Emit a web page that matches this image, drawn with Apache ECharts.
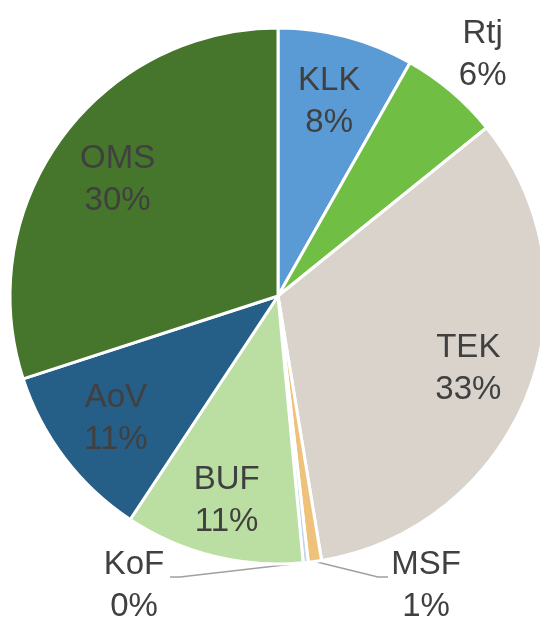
<!DOCTYPE html>
<html>
<head>
<meta charset="utf-8">
<script src="https://cdn.jsdelivr.net/npm/echarts@6/dist/echarts.min.js"></script>
<style>
  html, body { margin: 0; padding: 0; background: #fff; }
  #chart { width: 540px; height: 626px; }
</style>
</head>
<body>
<div id="chart"></div>
<script>
// slices, clockwise from 12 o'clock
var names  = ['KLK', 'Rtj', 'TEK', 'MSF', 'KoF', 'BUF', 'AoV', 'OMS'];
var shares = [8.2, 6.0, 33.2, 0.8, 0.3, 10.8, 10.7, 30.0];
var colors = ['#5b9bd5', '#70bf44', '#d9d3cc', '#eec27a', '#bdd7ee', '#bbdfa3', '#255e86', '#46762b'];

var cx = 278, cy = 296, R = 268;

// label distance from centre, as a share of the radius
var labelSpots = { KLK: 0.75, Rtj: 1.18, TEK: 0.76, BUF: 0.79, AoV: 0.76, OMS: 0.74 };
// small slices get a leader line to a label below the pie
var leaders = {
  KoF: { x: 134, y: 586, bend: [180, 577], end: [170, 577] },
  MSF: { x: 426, y: 586, bend: [378, 577], end: [388, 577] }
};

var total = shares.reduce(function (a, b) { return a + b; }, 0);
var mids = [];
var acc = 0;
shares.forEach(function (v) {
  mids.push((acc + v / 2) / total * 2 * Math.PI);
  acc += v;
});

var pieData = names.map(function (n, i) {
  var d = { name: n, value: shares[i], itemStyle: { color: colors[i] } };
  if (leaders[n]) {
    d.label = { position: 'outside' };
    d.labelLine = { show: true };
  } else if (labelSpots[n] > 1) {
    d.label = { position: 'outside' };
  }
  return d;
});

var chart = echarts.init(document.getElementById('chart'));
chart.setOption({
  animation: false,
  series: [{
    type: 'pie',
    center: [cx, cy],
    radius: R,
    startAngle: 90,
    clockwise: true,
    avoidLabelOverlap: false,
    itemStyle: { borderColor: '#fff', borderWidth: 3 },
    label: {
      show: true,
      position: 'inside',
      color: '#404040',
      fontSize: 33,
      lineHeight: 42,
      fontFamily: 'Liberation Sans',
      formatter: function (p) {
        return p.name + '\n' + Math.round(p.percent) + '%';
      }
    },
    labelLine: { show: false, lineStyle: { color: '#a0a0a0', width: 1.5 } },
    emphasis: { disabled: true },
    labelLayout: function (p) {
      var n = names[p.dataIndex];
      var a = mids[p.dataIndex];
      if (leaders[n]) {
        var L = leaders[n];
        var start = [cx + R * Math.sin(a), cy - R * Math.cos(a)];
        return {
          x: L.x, y: L.y, align: 'center', verticalAlign: 'middle',
          labelLinePoints: [start, L.bend, L.end]
        };
      }
      var k = labelSpots[n];
      return {
        x: cx + R * k * Math.sin(a),
        y: cy - R * k * Math.cos(a),
        align: 'center',
        verticalAlign: 'middle'
      };
    },
    data: pieData
  }]
});
</script>
</body>
</html>
